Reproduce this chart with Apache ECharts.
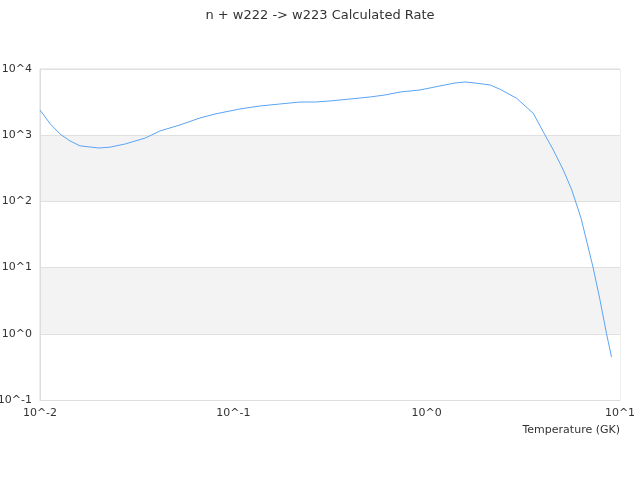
<!DOCTYPE html>
<html>
<head>
<meta charset="utf-8">
<script src="https://cdn.jsdelivr.net/npm/echarts@6/dist/echarts.min.js"></script>
<style>
  html, body { margin: 0; padding: 0; background: #fff; }
  #main { width: 640px; height: 480px; }
</style>
</head>
<body>
<div id="main"></div>
<script>
// temperature (GK) and rate
let temps = [0.01, 0.0113, 0.0127, 0.0143, 0.0161, 0.0202, 0.023, 0.0275, 0.035, 0.0418,
  0.053, 0.0672, 0.0804, 0.108, 0.137, 0.174, 0.221, 0.265, 0.316, 0.401,
  0.509, 0.609, 0.728, 0.924, 1.17, 1.40, 1.58, 1.78, 2.13, 2.40,
  2.92, 3.56, 4.09, 4.52, 5.09, 5.63, 6.29, 7.25, 7.88, 8.52, 9.04];
let rates = [2400, 1480, 1040, 820, 690, 640, 660, 735, 905, 1160,
  1430, 1820, 2090, 2490, 2760, 2960, 3170, 3170, 3290, 3520,
  3780, 4050, 4490, 4820, 5540, 6140, 6360, 6140, 5730, 4930,
  3610, 2140, 1010, 597, 298, 149, 55.6, 10.2, 3.25, 1.0, 0.446];

let myChart = echarts.init(document.getElementById('main'));

function powLabel(v) {
  return '10^' + Math.round(Math.log10(v));
}

let option = {
  textStyle: { fontFamily: 'DejaVu Sans' },
  title: {
    text: 'n + w222 -> w223 Calculated Rate',
    left: 'center',
    top: 4,
    textStyle: { fontSize: 13, fontWeight: 'normal', color: '#333', fontFamily: 'DejaVu Sans' }
  },
  grid: {
    left: 40,
    right: 20,
    top: 69,
    bottom: 80,
    containLabel: false,
    outerBoundsMode: 'none',
    show: true,
    borderColor: '#ddd',
    borderWidth: 1
  },
  xAxis: {
    type: 'log',
    min: 0.01,
    max: 10,
    logBase: 10,
    name: 'Temperature (GK)',
    nameLocation: 'end',
    nameGap: 0,
    nameTextStyle: {
      align: 'right',
      verticalAlign: 'top',
      padding: [25, 0, 0, 0],
      color: '#333',
      fontSize: 11
    },
    axisLine: { lineStyle: { color: '#ddd' } },
    axisTick: { show: false },
    splitLine: { show: false },
    axisLabel: { color: '#333', fontSize: 11, margin: 8, formatter: powLabel }
  },
  yAxis: {
    type: 'log',
    min: 0.1,
    max: 10000,
    logBase: 10,
    axisLine: { show: true, lineStyle: { color: '#ddd' } },
    axisTick: { show: false },
    splitLine: { show: true, lineStyle: { color: '#e0e0e0' } },
    splitArea: { show: true, areaStyle: { color: ['#ffffff', '#f3f3f3'] } },
    axisLabel: { color: '#333', fontSize: 11, margin: 8, formatter: powLabel }
  },
  series: [
    {
      type: 'line',
      data: temps.map((t, i) => [t, rates[i]]),
      showSymbol: false,
      lineStyle: { color: '#5aa5f5', width: 1 },
      itemStyle: { color: '#5aa5f5' }
    }
  ]
};
myChart.setOption(option);
</script>
</body>
</html>
